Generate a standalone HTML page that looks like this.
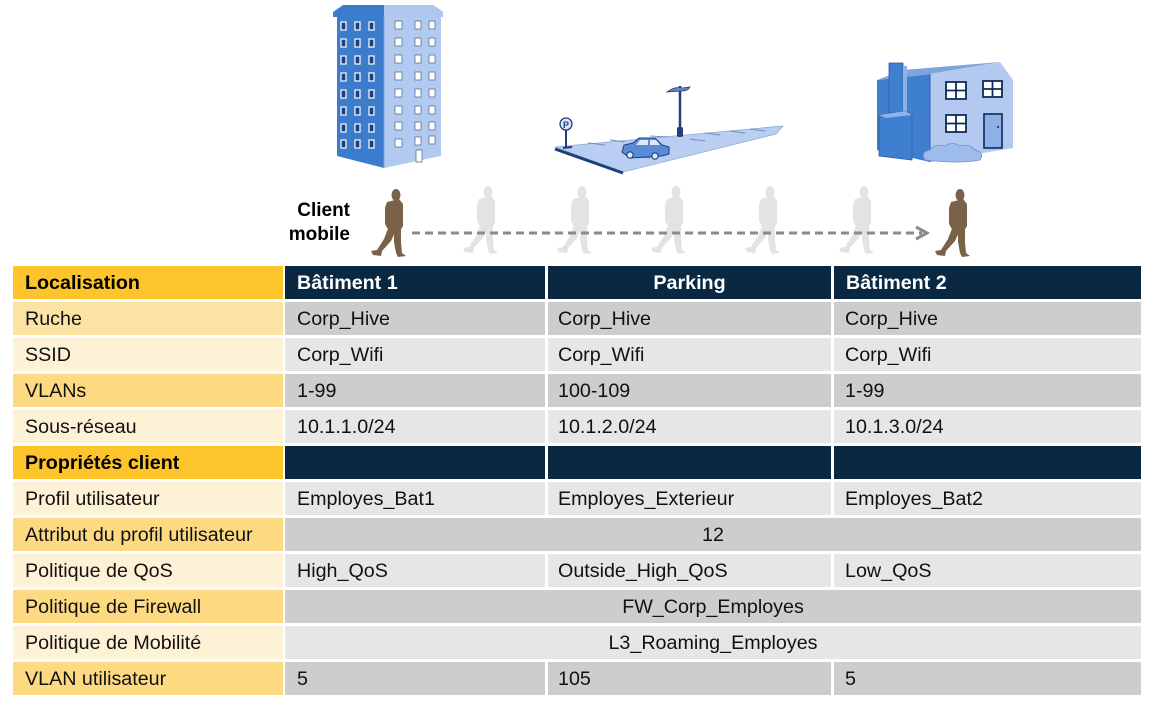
<!DOCTYPE html>
<html>
<head>
<meta charset="utf-8">
<style>
  html,body{margin:0;padding:0;background:#fff;}
  body{width:1155px;height:709px;position:relative;overflow:hidden;font-family:"Liberation Sans",Arial,sans-serif;}
  .c{position:absolute;height:33px;line-height:33px;padding-top:1px;font-size:19.7px;color:#111;white-space:nowrap;box-sizing:border-box;padding-left:12px;}
  .b{font-weight:bold;}
  .hy{background:#FDC42B;color:#000;}
  .hd{background:#0B2843;color:#fff;}
  .ld{background:#FDDA82;}
  .ll{background:#FEF2D6;}
  .gd{background:#CDCDCD;}
  .gl{background:#E6E6E6;}
  .ctr{text-align:center;padding-left:0;}
  .txt{position:absolute;font-weight:bold;font-size:19px;color:#000;}
</style>
</head>
<body>

<svg width="1155" height="265" style="position:absolute;left:0;top:0" xmlns="http://www.w3.org/2000/svg">
  <!-- Building 1 -->
  <g>
    <polygon points="333,12 343,5 433,5 443,12 443,17 333,17" fill="#3B7DCC"/>
    <polygon points="384,5 433,5 443,12 443,17 384,17" fill="#AFC7EE"/>
    <polygon points="337,17 384,17 384,168 337,156" fill="#3B7DCC"/>
    <polygon points="384,17 441,17 441,156 384,168" fill="#B3CAF0"/>
    <line x1="384" y1="17" x2="384" y2="168" stroke="#7FA3DA" stroke-width="1"/>
    <g fill="#1F3F78" stroke="#fff" stroke-width="1.2">
      <rect x="341" y="22" width="5" height="8"/><rect x="355" y="22" width="5" height="8"/><rect x="369" y="22" width="5" height="8"/>
      <rect x="341" y="39" width="5" height="8"/><rect x="355" y="39" width="5" height="8"/><rect x="369" y="39" width="5" height="8"/>
      <rect x="341" y="56" width="5" height="8"/><rect x="355" y="56" width="5" height="8"/><rect x="369" y="56" width="5" height="8"/>
      <rect x="341" y="73" width="5" height="8"/><rect x="355" y="73" width="5" height="8"/><rect x="369" y="73" width="5" height="8"/>
      <rect x="341" y="90" width="5" height="8"/><rect x="355" y="90" width="5" height="8"/><rect x="369" y="90" width="5" height="8"/>
      <rect x="341" y="107" width="5" height="8"/><rect x="355" y="107" width="5" height="8"/><rect x="369" y="107" width="5" height="8"/>
      <rect x="341" y="124" width="5" height="8"/><rect x="355" y="124" width="5" height="8"/><rect x="369" y="124" width="5" height="8"/>
      <rect x="341" y="140" width="5" height="8"/><rect x="355" y="140" width="5" height="8"/><rect x="369" y="140" width="5" height="8"/>
    </g>
    <g fill="#fff" stroke="#5B6F95" stroke-width="0.8">
      <rect x="395" y="21" width="7" height="8"/><rect x="415" y="21" width="6" height="8"/><rect x="429" y="21" width="6" height="8"/>
      <rect x="395" y="38" width="7" height="8"/><rect x="415" y="38" width="6" height="8"/><rect x="429" y="38" width="6" height="8"/>
      <rect x="395" y="55" width="7" height="8"/><rect x="415" y="55" width="6" height="8"/><rect x="429" y="55" width="6" height="8"/>
      <rect x="395" y="72" width="7" height="8"/><rect x="415" y="72" width="6" height="8"/><rect x="429" y="72" width="6" height="8"/>
      <rect x="395" y="89" width="7" height="8"/><rect x="415" y="89" width="6" height="8"/><rect x="429" y="89" width="6" height="8"/>
      <rect x="395" y="106" width="7" height="8"/><rect x="415" y="106" width="6" height="8"/><rect x="429" y="106" width="6" height="8"/>
      <rect x="395" y="122" width="7" height="8"/><rect x="415" y="122" width="6" height="8"/><rect x="429" y="122" width="6" height="8"/>
      <rect x="395" y="139" width="7" height="8"/><rect x="415" y="137" width="6" height="8"/><rect x="429" y="136" width="6" height="8"/>
      <rect x="416" y="150" width="6" height="12"/>
    </g>
  </g>

  <!-- Parking -->
  <g>
    <polygon points="555,147 783,126 776,134 623,172" fill="#B9CEF0" stroke="#8FA9D6" stroke-width="0.8"/>
    <line x1="555" y1="149" x2="623" y2="173" stroke="#1D3F7A" stroke-width="3"/>
    <g stroke="#6F8FC4" stroke-width="1">
      <line x1="588" y1="143" x2="605" y2="145"/>
      <line x1="610" y1="140" x2="625" y2="142"/>
      <line x1="650" y1="136" x2="668" y2="137"/>
      <line x1="690" y1="139" x2="705" y2="141"/>
      <line x1="705" y1="133" x2="720" y2="135"/>
      <line x1="730" y1="131" x2="745" y2="133"/>
      <line x1="750" y1="129" x2="765" y2="131"/>
      <line x1="635" y1="156" x2="650" y2="158"/>
    </g>
    <!-- P sign -->
    <line x1="566" y1="128" x2="566" y2="148" stroke="#1D3F7A" stroke-width="2"/>
    <line x1="563" y1="148" x2="572" y2="147" stroke="#1D3F7A" stroke-width="2"/>
    <circle cx="566" cy="124" r="6" fill="#DDE6F6" stroke="#1D3F7A" stroke-width="1.3"/>
    <text x="566" y="128" font-family="Liberation Sans, sans-serif" font-size="9" font-weight="bold" fill="#1D3F7A" text-anchor="middle">P</text>
    <!-- lamp -->
    <line x1="680" y1="86" x2="680" y2="130" stroke="#1D3F7A" stroke-width="2.5"/>
    <rect x="677" y="127" width="6" height="10" rx="2" fill="#1D3F7A"/>
    <path d="M667,92 Q675,86 682,88 L690,87 Q688,91 682,91 Z" fill="#6A85B8" stroke="#1D3F7A" stroke-width="0.8"/>
    <!-- car -->
    <path d="M622,152 L624,145 L633,143 L639,138 L655,138 L662,145 L669,147 L669,154 L662,156 L630,158 Z" fill="#5B8BD8" stroke="#1D3F7A" stroke-width="1"/>
    <polygon points="640,140 648,140 648,145 636,145" fill="#DDE8FA"/>
    <polygon points="650,140 656,140 660,145 650,145" fill="#DDE8FA"/>
    <circle cx="630" cy="155" r="3.2" fill="#DDE8FA" stroke="#1D3F7A" stroke-width="1.2"/>
    <circle cx="655" cy="156" r="3.2" fill="#DDE8FA" stroke="#1D3F7A" stroke-width="1.2"/>
  </g>

  <!-- House -->
  <g>
    <polygon points="877,80 930,74 930,162 877,150" fill="#3F7FD0"/>
    <polygon points="877,80 903,70 1000,62 930,74" fill="#7EA4DF"/>
    <polygon points="930,74 1000,62 1013,80 1013,148 930,162" fill="#B3C9F0"/>
    <line x1="930" y1="74" x2="930" y2="162" stroke="#2A5FAA" stroke-width="1"/>
    <rect x="889" y="63" width="14" height="50" fill="#3F7FD0" stroke="#2A5FAA" stroke-width="0.8"/>
    <rect x="903" y="66" width="4" height="47" fill="#8FB1E6"/>
    <polygon points="879,115 905,111 912,115 912,160 879,156" fill="#3F7FD0" stroke="#2A5FAA" stroke-width="0.8"/>
    <polygon points="879,115 905,111 912,115 886,118" fill="#8FB1E6"/>
    <g fill="#fff" stroke="#0E2B5A" stroke-width="1.8">
      <rect x="946" y="82" width="20" height="17"/>
      <rect x="983" y="81" width="19" height="16"/>
      <rect x="946" y="115" width="20" height="17"/>
    </g>
    <g stroke="#0E2B5A" stroke-width="1.8">
      <line x1="956" y1="82" x2="956" y2="99"/><line x1="946" y1="90.5" x2="966" y2="90.5"/>
      <line x1="992.5" y1="81" x2="992.5" y2="97"/><line x1="983" y1="89" x2="1002" y2="89"/>
      <line x1="956" y1="115" x2="956" y2="132"/><line x1="946" y1="123.5" x2="966" y2="123.5"/>
    </g>
    <rect x="984" y="114" width="18" height="34" fill="#8EB0E6" stroke="#0E2B5A" stroke-width="1.6"/>
    <circle cx="998" cy="127" r="1" fill="#0E2B5A"/>
    <path d="M925,160 Q920,152 930,150 Q934,143 945,146 Q952,141 960,146 Q970,143 975,150 Q985,152 980,160 Q960,164 925,160 Z" fill="#9DBBEB" stroke="#6F93D0" stroke-width="0.8"/>
  </g>

  <!-- Walkers -->
  <defs>
    <g id="w">
      <ellipse cx="26" cy="9" rx="4.5" ry="6"/>
      <path d="M17,16 L29,13 L33,18 L33,40 L30,45 L19,45 L15,38 L15,22 Z"/>
      <path d="M19,40 L26,44 L21,55 L12,65 L11,70 L3,69 L1,65 L7,64 L14,53 Z"/>
      <path d="M24,42 L31,42 L31,56 L32,67 L36,70 L28,71 L26,67 L24,56 Z"/>
      <path d="M27,14 L31,16 L31,26 L27,25 Z"/>
    </g>
  </defs>
  <g fill="#E3E3E3">
    <use href="#w" transform="translate(462,183)"/>
    <use href="#w" transform="translate(556,183)"/>
    <use href="#w" transform="translate(650,183)"/>
    <use href="#w" transform="translate(744,183)"/>
    <use href="#w" transform="translate(838,183)"/>
  </g>
  <g fill="#7A6248">
    <use href="#w" transform="translate(370,186)"/>
    <use href="#w" transform="translate(934,186)"/>
  </g>
  <!-- dashed arrow -->
  <line x1="412" y1="233" x2="922" y2="233" stroke="#8A8A8A" stroke-width="3" stroke-dasharray="8,5"/>
  <polyline points="916,227 927,233 916,239" fill="none" stroke="#8A8A8A" stroke-width="3"/>
</svg>

<div class="txt" style="right:805px;top:200px;">Client</div>
<div class="txt" style="right:805px;top:224px;">mobile</div>

<!-- Row 0 -->
<div class="c b hy" style="left:13px;top:266px;width:270px;">Localisation</div>
<div class="c b hd" style="left:285px;top:266px;width:260px;">Bâtiment 1</div>
<div class="c b hd ctr" style="left:548px;top:266px;width:283px;">Parking</div>
<div class="c b hd" style="left:834px;top:266px;width:307px;">Bâtiment 2</div>

<!-- Row 1 -->
<div class="c" style="left:13px;top:302px;width:270px;background:#FCE3A4;">Ruche</div>
<div class="c gd" style="left:285px;top:302px;width:260px;">Corp_Hive</div>
<div class="c gd" style="left:548px;top:302px;width:283px;padding-left:10px;">Corp_Hive</div>
<div class="c gd" style="left:834px;top:302px;width:307px;padding-left:11px;">Corp_Hive</div>

<!-- Row 2 -->
<div class="c ll" style="left:13px;top:338px;width:270px;">SSID</div>
<div class="c gl" style="left:285px;top:338px;width:260px;">Corp_Wifi</div>
<div class="c gl" style="left:548px;top:338px;width:283px;padding-left:10px;">Corp_Wifi</div>
<div class="c gl" style="left:834px;top:338px;width:307px;padding-left:11px;">Corp_Wifi</div>

<!-- Row 3 -->
<div class="c ld" style="left:13px;top:374px;width:270px;">VLANs</div>
<div class="c gd" style="left:285px;top:374px;width:260px;">1-99</div>
<div class="c gd" style="left:548px;top:374px;width:283px;padding-left:10px;">100-109</div>
<div class="c gd" style="left:834px;top:374px;width:307px;padding-left:11px;">1-99</div>

<!-- Row 4 -->
<div class="c ll" style="left:13px;top:410px;width:270px;">Sous-réseau</div>
<div class="c gl" style="left:285px;top:410px;width:260px;">10.1.1.0/24</div>
<div class="c gl" style="left:548px;top:410px;width:283px;padding-left:10px;">10.1.2.0/24</div>
<div class="c gl" style="left:834px;top:410px;width:307px;padding-left:11px;">10.1.3.0/24</div>

<!-- Row 5 -->
<div class="c b hy" style="left:13px;top:446px;width:270px;">Propriétés client</div>
<div class="c hd" style="left:285px;top:446px;width:260px;"></div>
<div class="c hd" style="left:548px;top:446px;width:283px;"></div>
<div class="c hd" style="left:834px;top:446px;width:307px;"></div>

<!-- Row 6 -->
<div class="c ll" style="left:13px;top:482px;width:270px;">Profil utilisateur</div>
<div class="c gl" style="left:285px;top:482px;width:260px;">Employes_Bat1</div>
<div class="c gl" style="left:548px;top:482px;width:283px;padding-left:10px;">Employes_Exterieur</div>
<div class="c gl" style="left:834px;top:482px;width:307px;padding-left:11px;">Employes_Bat2</div>

<!-- Row 7 -->
<div class="c ld" style="left:13px;top:518px;width:270px;">Attribut du profil utilisateur</div>
<div class="c gd ctr" style="left:285px;top:518px;width:856px;">12</div>

<!-- Row 8 -->
<div class="c ll" style="left:13px;top:554px;width:270px;">Politique de QoS</div>
<div class="c gl" style="left:285px;top:554px;width:260px;">High_QoS</div>
<div class="c gl" style="left:548px;top:554px;width:283px;padding-left:10px;">Outside_High_QoS</div>
<div class="c gl" style="left:834px;top:554px;width:307px;padding-left:11px;">Low_QoS</div>

<!-- Row 9 -->
<div class="c ld" style="left:13px;top:590px;width:270px;">Politique de Firewall</div>
<div class="c gd ctr" style="left:285px;top:590px;width:856px;">FW_Corp_Employes</div>

<!-- Row 10 -->
<div class="c ll" style="left:13px;top:626px;width:270px;">Politique de Mobilité</div>
<div class="c gl ctr" style="left:285px;top:626px;width:856px;">L3_Roaming_Employes</div>

<!-- Row 11 -->
<div class="c ld" style="left:13px;top:662px;width:270px;">VLAN utilisateur</div>
<div class="c gd" style="left:285px;top:662px;width:260px;">5</div>
<div class="c gd" style="left:548px;top:662px;width:283px;padding-left:10px;">105</div>
<div class="c gd" style="left:834px;top:662px;width:307px;padding-left:11px;">5</div>

</body>
</html>
